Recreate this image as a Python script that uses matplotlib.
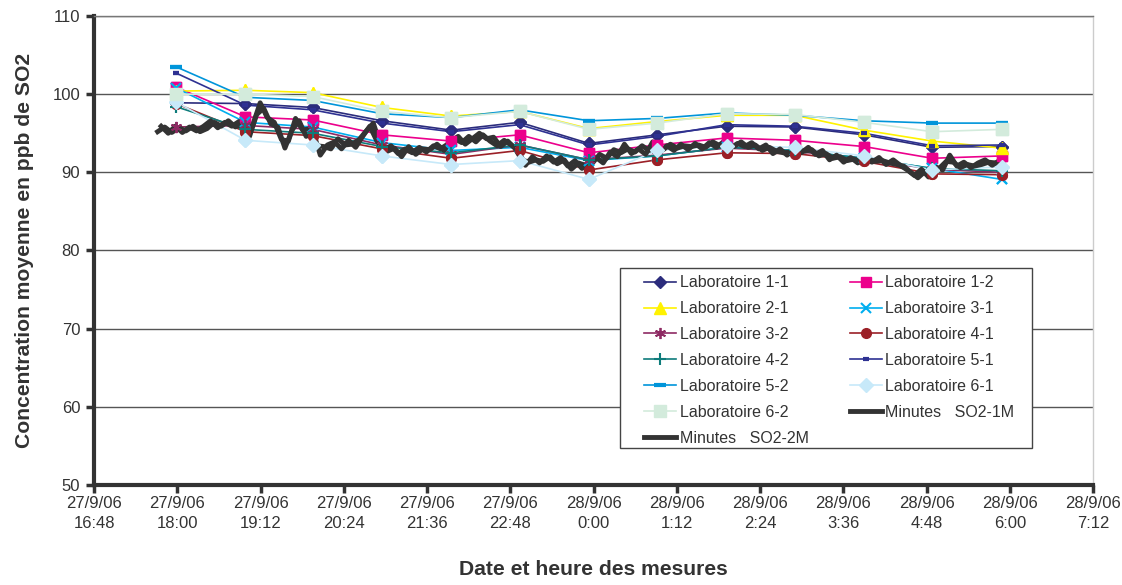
import matplotlib
matplotlib.use("Agg")
import matplotlib.pyplot as plt
from matplotlib.patches import Rectangle
import pandas as pd

plt.rcParams['font.family'] = ['Liberation Sans', 'DejaVu Sans']

# hourly lab averages
lab_times = pd.to_datetime([
    "2006-09-27 17:59", "2006-09-27 18:59", "2006-09-27 19:57", "2006-09-27 20:57",
    "2006-09-27 21:57", "2006-09-27 22:56", "2006-09-27 23:56", "2006-09-28 00:55",
    "2006-09-28 01:55", "2006-09-28 02:54", "2006-09-28 03:54", "2006-09-28 04:53",
    "2006-09-28 05:53"])

lab_1_1 = [98.9, 98.8, 98.3, 96.6, 95.4, 96.4, 93.7, 94.8, 95.9, 95.8, 94.8, 93.2, 93.3]
lab_1_2 = [100.9, 97.1, 96.7, 94.8, 94.0, 94.8, 92.5, 93.5, 94.4, 94.1, 93.3, 91.8, 92.1]
lab_2_1 = [100.4, 100.5, 100.2, 98.3, 97.2, 97.8, 95.6, 96.5, 97.3, 97.3, 95.4, 94.0, 93.1]
lab_3_1 = [100.8, 96.4, 95.8, 93.8, 92.8, 93.2, 91.5, 92.1, 93.2, 92.8, 91.8, 90.5, 89.1]
lab_3_2 = [95.8, 96.0, 95.5, 93.5, 92.3, 93.5, 91.6, 92.2, 93.1, 92.7, 91.7, 90.4, 90.0]
lab_4_1 = [98.8, 95.2, 94.7, 93.0, 91.8, 92.8, 90.3, 91.6, 92.5, 92.4, 91.4, 89.8, 89.7]
lab_4_2 = [98.4, 95.5, 95.0, 93.3, 92.5, 93.5, 91.6, 92.1, 93.2, 92.8, 91.8, 90.5, 90.2]
lab_5_1 = [102.7, 98.6, 98.0, 96.3, 95.2, 96.1, 93.5, 94.6, 96.1, 95.9, 95.0, 93.4, 93.5]
lab_5_2 = [103.5, 99.6, 99.2, 97.5, 97.0, 98.0, 96.6, 96.9, 97.6, 97.3, 96.6, 96.3, 96.3]
lab_6_1 = [99.0, 94.1, 93.5, 92.1, 91.0, 91.5, 89.1, 92.8, 93.4, 93.2, 92.1, 90.3, 90.7]
lab_6_2 = [100.0, 100.0, 99.7, 97.8, 97.0, 97.8, 95.5, 96.3, 97.5, 97.4, 96.4, 95.2, 95.5]

# minute analyser readings (one reading kept every ~6 min, the two analysers staggered)
times_1m = pd.date_range("2006-09-27 17:43:00", periods=120, freq="367s")
times_2m = pd.date_range("2006-09-27 17:46:03", periods=120, freq="367s")
so2_1m = [95.2, 95.8, 95.1, 95.7, 95.3, 95.9, 95.2, 95.6, 96.4, 95.9,
          96.6, 95.8, 96.3, 94.6, 97.4, 98.2, 96.2, 95.8, 93.1, 95.4,
          96.6, 94.6, 95.2, 92.2, 93.5, 93.9, 93.0, 94.1, 93.2, 94.6,
          95.9, 94.0, 92.9, 93.4, 92.4, 93.0, 92.5, 93.2, 92.6, 93.4,
          93.0, 93.6, 94.3, 93.8, 94.6, 93.9, 94.8, 94.0, 93.4, 94.1,
          93.5, 92.8, 90.9, 92.0, 91.2, 92.1, 91.3, 91.9, 90.8, 91.5,
          90.5, 91.4, 91.9, 91.2, 92.6, 92.0, 93.6, 92.4, 93.0, 92.3,
          93.9, 92.6, 93.4, 92.8, 93.6, 92.9, 93.7, 93.0, 93.8, 93.2,
          93.9, 93.1, 93.7, 93.3, 93.8, 93.0, 93.5, 92.4, 93.0, 92.2,
          92.9, 92.5, 93.2, 92.3, 92.8, 91.6, 92.2, 91.3, 91.9, 91.2,
          91.8, 91.3, 91.9, 91.0, 91.6, 90.9, 90.3, 89.6, 90.4, 89.4,
          90.7, 90.3, 92.2, 90.8, 91.3, 90.6, 91.2, 91.6, 90.9, 91.5]
so2_2m = [95.9, 95.0, 95.9, 95.1, 95.8, 95.3, 95.9, 96.6, 95.7, 96.4,
          95.9, 96.5, 95.1, 96.2, 98.9, 97.0, 96.4, 94.2, 94.0, 96.9,
          95.4, 95.6, 93.4, 93.3, 93.0, 94.3, 93.5, 93.6, 94.2, 95.3,
          96.3, 93.5, 92.7, 93.1, 92.0, 93.3, 92.3, 93.0, 92.9, 93.6,
          92.8, 94.0, 94.6, 93.6, 94.3, 95.0, 94.3, 94.5, 93.3, 94.0,
          93.1, 91.6, 91.3, 91.6, 91.4, 92.0, 91.1, 91.6, 90.4, 91.2,
          90.9, 91.2, 92.3, 91.8, 92.9, 92.5, 93.0, 92.6, 93.4, 92.8,
          93.3, 92.9, 93.6, 93.1, 93.4, 93.3, 93.5, 93.2, 93.9, 93.4,
          93.6, 93.3, 93.9, 93.2, 93.5, 92.8, 93.2, 92.7, 92.5, 92.6,
          93.0, 92.7, 92.9, 92.1, 92.4, 91.8, 92.0, 91.5, 91.7, 91.3,
          91.7, 91.4, 91.5, 91.2, 91.0, 90.8, 90.0, 89.3, 90.1, 89.9,
          90.5, 91.4, 91.3, 90.6, 91.0, 90.8, 91.0, 91.3, 91.2, 91.0]

tick_times = pd.date_range("2006-09-27 16:48", "2006-09-28 07:12", freq="72min")
tick_labels = ["27/9/06\n16:48", "27/9/06\n18:00", "27/9/06\n19:12", "27/9/06\n20:24",
               "27/9/06\n21:36", "27/9/06\n22:48", "28/9/06\n0:00", "28/9/06\n1:12",
               "28/9/06\n2:24", "28/9/06\n3:36", "28/9/06\n4:48", "28/9/06\n6:00",
               "28/9/06\n7:12"]

labs = [
    ("Laboratoire 1-1", lab_1_1, '#2b2c7c', 'D', 6, {}),
    ("Laboratoire 1-2", lab_1_2, '#ec008c', 's', 7, {}),
    ("Laboratoire 2-1", lab_2_1, '#fff200', '^', 8, {}),
    ("Laboratoire 3-1", lab_3_1, '#00aeef', 'x', 7, {'mew': 1.5}),
    ("Laboratoire 3-2", lab_3_2, '#8e2a63', (6, 2, 0), 8, {'mew': 1.3}),
    ("Laboratoire 4-1", lab_4_1, '#9b2027', 'o', 7, {}),
    ("Laboratoire 4-2", lab_4_2, '#0e7c7b', '+', 9, {'mew': 1.5}),
    ("Laboratoire 5-1", lab_5_1, '#2e3192', '_', 5, {'mew': 3}),
    ("Laboratoire 5-2", lab_5_2, '#0095da', '_', 8, {'mew': 3}),
    ("Laboratoire 6-1", lab_6_1, '#c7e9f9', 'D', 7, {}),
    ("Laboratoire 6-2", lab_6_2, '#d3ebdc', 's', 8, {}),
]

fig = plt.figure(figsize=(11.22, 5.85), dpi=100)
ax = fig.add_axes([0.0838, 0.171, 0.8904, 0.8016])

handles = {}
for name, vals, col, mk, ms, kw in labs:
    ln, = ax.plot(lab_times, vals, color=col, lw=1.2, marker=mk, ms=ms,
                  mfc=col, mec=col, zorder=2, label=name, **kw)
    ax.plot(lab_times, vals, ls='none', marker=mk, ms=ms, mfc=col, mec=col,
            zorder=4, **kw)
    handles[name] = ln

l1, = ax.plot(times_1m, so2_1m, color='#333333', lw=3.5, zorder=3)
l2, = ax.plot(times_2m, so2_2m, color='#333333', lw=3.5, zorder=3)
handles["Minutes   SO2-1M"] = l1
handles["Minutes   SO2-2M"] = l2

ax.set_ylim(50, 110)
ax.set_yticks(range(50, 111, 10))
ax.set_xlim(tick_times[0], tick_times[-1])
ax.set_xticks(tick_times)
ax.set_xticklabels(tick_labels, fontsize=12, color='#333333', linespacing=1.4)
ax.tick_params(axis='y', labelsize=12, labelcolor='#333333', pad=4)
ax.tick_params(axis='both', direction='out', length=6, width=2.5, color='#333333')
ax.tick_params(axis='x', pad=2)

ax.grid(True, axis='y', color='#555555', lw=1.0)
ax.set_axisbelow(True)
for side in ['left', 'bottom']:
    ax.spines[side].set_linewidth(3)
    ax.spines[side].set_color('#333333')
ax.spines['top'].set_color('#777777')
ax.spines['right'].set_color('#cccccc')
ax.spines['top'].set_linewidth(1)
ax.spines['right'].set_linewidth(1)

ax.set_ylabel("Concentration moyenne en ppb de SO2", fontsize=15.2,
              fontweight='bold', color='#333333', labelpad=13)
ax.set_xlabel("Date et heure des mesures", fontsize=15.2, fontweight='bold',
              color='#333333', labelpad=21)

# legend box drawn separately (Excel-style inner padding)
frame = Rectangle((0.526, 0.079), 0.413, 0.3837, transform=ax.transAxes,
                  facecolor='white', edgecolor='#444444', lw=1.0, zorder=5)
ax.add_patch(frame)

order = ["Laboratoire 1-1", "Laboratoire 2-1", "Laboratoire 3-2", "Laboratoire 4-2",
         "Laboratoire 5-2", "Laboratoire 6-2", "Minutes   SO2-2M",
         "Laboratoire 1-2", "Laboratoire 3-1", "Laboratoire 4-1", "Laboratoire 5-1",
         "Laboratoire 6-1", "Minutes   SO2-1M"]
leg = ax.legend([handles[k] for k in order], order, ncol=2, loc='upper left',
                bbox_to_anchor=(0.551, 0.447), borderaxespad=0, fontsize=11.5,
                frameon=False, labelspacing=0.68, columnspacing=2.57,
                handlelength=2.0, handletextpad=0.2, borderpad=0,
                labelcolor='#333333')
leg.set_zorder(6)

fig.savefig("out.png", dpi=100)
